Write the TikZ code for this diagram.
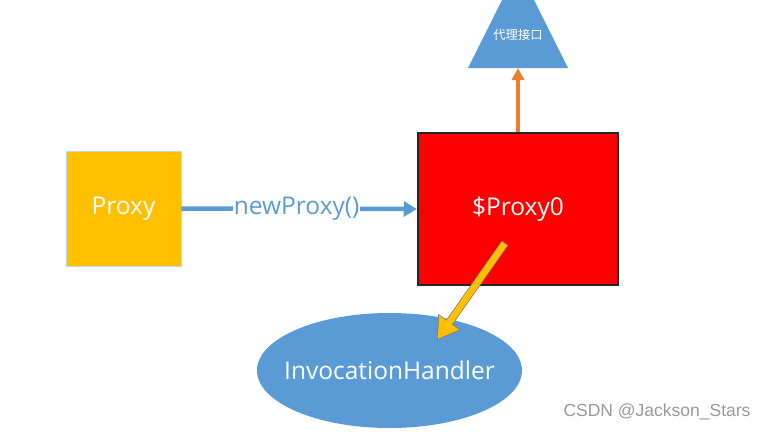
\documentclass[tikz,border=0pt]{standalone}
\usepackage{fontspec}
\setmainfont{Open Sans}
\newfontfamily\cjk{Noto Sans CJK SC}
\newfontfamily\wm{Liberation Sans}
\usetikzlibrary{arrows.meta,shapes.geometric,calc}
\definecolor{pblue}{HTML}{5B9BD5}
\definecolor{porange}{HTML}{ED7D31}
\definecolor{pyellow}{HTML}{FFC000}
\definecolor{pborder}{HTML}{262626}
\tikzset{
  lbl/.style={text=white,font=\fontsize{24.5}{27}\selectfont},
}
\begin{document}
\begin{tikzpicture}[x=1pt,y=-1pt]
\useasboundingbox (0,0) rectangle (768,431);
\fill[white] (0,0) rectangle (768,431);
% triangle (clipped at top)
\begin{scope}
\clip (0,0) rectangle (768,431);
\fill[pblue] (518,-32) -- (568,68) -- (468,68) -- cycle;
\end{scope}
\coordinate (tri) at (518,68);
\node[text=white,font=\cjk\fontsize{12.3}{14}\selectfont] (tritext) at (518,35) {代理接口};
% Proxy box
\node[fill=pyellow,draw=pblue!40,line width=0.5pt,minimum width=115,minimum height=115,inner sep=0,lbl] (proxy) at (123.5,208.5) {Proxy};
% $Proxy0 box
\node[fill=red,draw=pborder,line width=2.5pt,minimum width=200,minimum height=152,inner sep=0,lbl] (p0) at (518,209) {\$Proxy0};
% ellipse
\node[ellipse,fill=pblue,minimum width=265,minimum height=115,inner sep=0] (ih) at (389.5,370.5) {};
\node[lbl] (ihtext) at (ih.center) {InvocationHandler};
% blue arrow
\draw[pblue,line width=4.5pt,-{Triangle[length=13pt,width=15pt]}] (proxy.east) -- (p0.west)
  node[pos=0.49,fill=white,inner sep=1pt,text=pblue,font=\fontsize{24.5}{27}\selectfont] (np) {newProxy()};
% orange arrow
\draw[porange,line width=3.5pt,-{Triangle[length=12pt,width=12pt]}] (p0.north) -- (tri);
% yellow arrow
\coordinate (ys) at (505,243);
\coordinate (ye) at (437,340);
\draw[pborder!60,line width=8pt,-{Triangle[length=22pt,width=26pt]}] (ys) -- (ye);
\draw[pyellow,line width=6.5pt,-{Triangle[length=20pt,width=23pt]}] ($(ys)!0.6pt!(ye)$) -- ($(ye)!1.2pt!(ys)$);
% watermark
\node[text=black!40,font=\wm\fontsize{17.5}{20}\selectfont,anchor=west] (wm) at (560,412) {CSDN @Jackson\_Stars};
\end{tikzpicture}
\end{document}
